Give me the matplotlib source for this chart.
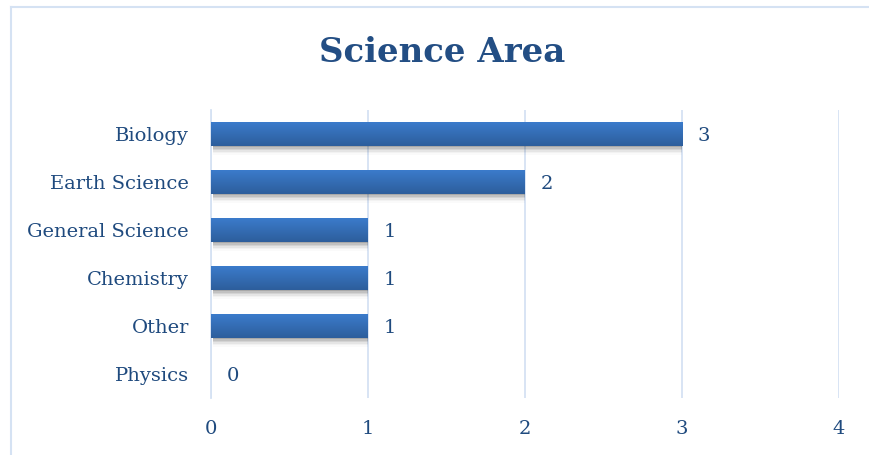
import matplotlib
matplotlib.use("Agg")
import matplotlib.pyplot as plt
import numpy as np
from matplotlib.colors import LinearSegmentedColormap
from matplotlib.lines import Line2D

categories = ["Biology", "Earth Science", "General Science", "Chemistry", "Other", "Physics"]
values = [3, 2, 1, 1, 1, 0]
x_ticks = [0, 1, 2, 3, 4]
title = "Science Area"

text_color = "#1F4A7E"
grid_color = "#D5E2F3"
bar_top = "#3B7BCB"
bar_bot = "#2D5E9C"

plt.rcParams['font.family'] = ['DejaVu Serif']

fig = plt.figure(figsize=(8.69, 4.55), dpi=100)
ax = fig.add_axes([211/869, 57/455, 628/869, 288/455])

n = len(categories)
ypos = np.arange(n)[::-1]
h = 0.5

cmap = LinearSegmentedColormap.from_list("g", [bar_top, bar_bot])
grad = np.linspace(0, 1, 64).reshape(-1, 1)

for y, v in zip(ypos, values):
    if v <= 0:
        continue
    # soft shadow
    for k, a in enumerate([0.12, 0.09, 0.07, 0.05, 0.03, 0.02]):
        off = 0.03 + 0.03 * k
        ax.barh(y - off, v - 0.015, height=h, left=0.015, color="#000000",
                alpha=a, linewidth=0, zorder=2)
    ax.barh(y, v, height=h, color=bar_top, linewidth=0, zorder=3)
    ax.imshow(grad, cmap=cmap, aspect="auto", interpolation="bicubic",
              extent=(0, v, y - h / 2, y + h / 2), zorder=4)

for y, v in zip(ypos, values):
    ax.annotate(str(v), xy=(v, y), xytext=(11.5, 0), textcoords="offset points",
                ha="left", va="center_baseline", fontsize=14, color=text_color, zorder=5)

ax.set_xlim(0, 4)
ax.set_ylim(-0.5, n - 0.5)
ax.set_xticks(x_ticks)
ax.set_xticklabels([str(t) for t in x_ticks])
ax.set_yticks(ypos)
ax.set_yticklabels(categories)
for lab in ax.get_yticklabels():
    lab.set_va("center_baseline")
ax.tick_params(axis="both", length=0, labelsize=14, colors=text_color)
ax.tick_params(axis="y", pad=16)
ax.tick_params(axis="x", pad=16)
ax.xaxis.grid(True, color=grid_color, linewidth=1.3, zorder=0)
ax.set_axisbelow(True)
for s in ["top", "right", "bottom"]:
    ax.spines[s].set_visible(False)
ax.spines["left"].set_color(grid_color)
ax.spines["left"].set_linewidth(1.3)

fig.text(442/869, 1 - 53/455, title, ha="center", va="center",
         fontsize=24.5, fontweight="bold", color="#234E84")

# chart border (left and top)
fig.add_artist(Line2D([10.5/869, 10.5/869], [0, 1 - 7/455], transform=fig.transFigure,
                      color="#D5E2F3", linewidth=1.5))
fig.add_artist(Line2D([10.5/869, 1], [1 - 7/455, 1 - 7/455], transform=fig.transFigure,
                      color="#D5E2F3", linewidth=1.5))

fig.savefig("out.png", dpi=100)
